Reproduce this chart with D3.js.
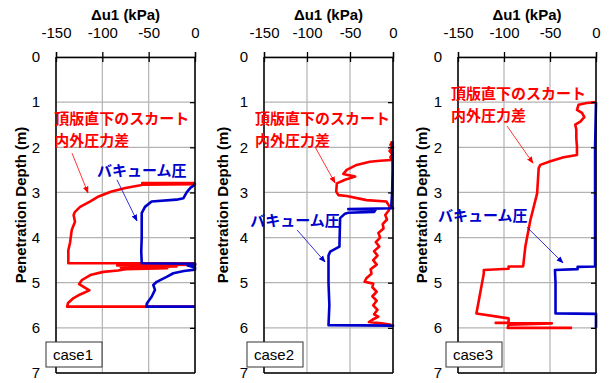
<!DOCTYPE html>
<meta charset="utf-8">
<style>
body { margin: 0; background: #fff; }
text { font-family: "Liberation Sans", Arial, sans-serif; }
.grid line { stroke: #b3b3b3; stroke-width: 1.2px; }
.frame { stroke: #000; stroke-width: 1.5px; fill: none; }
.axis path, .axis line { stroke: #000; stroke-width: 1.3px; }
.axis text { font-size: 15px; fill: #000; }
.jp { font-family: "Noto Sans CJK JP", sans-serif; font-weight: bold; font-size: 15px; }
</style>
<svg width="611" height="383"></svg>
<script src="https://d3js.org/d3.v7.min.js"></script>
<script>
// values: [Δu1 (kPa), depth (m)]
var xTicks = [-150, -100, -50, 0];
var depthTicks = [0, 1, 2, 3, 4, 5, 6, 7];
var caseNames = ["case1", "case2", "case3"];

var case1Red = [[0,2.79],[-57,2.79],[-30,2.8],[-57,2.81],[0,2.82],[-57,2.83],[-59,2.84],[-75,2.9],[-90,2.98],[-95,3.02],
  [-104,3.09],[-113,3.2],[-124,3.32],[-129.5,3.43],[-131,3.5],[-129.5,3.65],[-133,3.83],[-134.9,4.12],[-136.7,4.28],
  [-136.7,4.57],[0,4.57],[0,4.6],[-84,4.62],[-20,4.64],[-80,4.66],[-30,4.68],[-75,4.7],[-83,4.73],[-99,4.76],
  [-113,4.83],[-122,4.94],[-125,5.03],[-114,5.17],[-124,5.26],[-131,5.34],[-137,5.45],[-138,5.53],[0,5.53]];
var case1Blue = [[0,2.79],[-1,2.84],[-5,2.9],[-9,3.0],[-12.6,3.13],[-20,3.16],[-46.8,3.2],[-54,3.32],[-57.5,3.46],
  [-57.5,4.0],[-58,4.3],[-57.5,4.57],[0,4.58],[0,4.62],[-8,4.62],[0,4.66],[0,4.71],[-12,4.74],[-23.4,4.79],
  [-30.6,4.87],[-41.3,4.98],[-45,5.05],[-43.2,5.16],[-46.8,5.31],[-52,5.46],[-52.5,5.53],[0,5.53]];

var case2Red = [[-1,1.87],[-3,1.95],[0,2.0],[-4,2.08],[-1,2.15],[-3,2.22],[-2,2.28],[-15,2.3],[-27,2.32],[-42.3,2.39],
  [-53.8,2.5],[-57.7,2.59],[-44,2.65],[-55.8,2.72],[-65.3,2.8],[-66,2.98],[-63.5,3.06],[-53.8,3.08],[-30.8,3.17],
  [-7.7,3.2],[-3.8,3.32],[-5,3.4],[-9,3.5],[-7,3.6],[-12,3.7],[-11,3.8],[-17,3.9],[-15,4.0],[-20,4.1],[-16,4.2],
  [-22,4.3],[-18,4.4],[-23,4.5],[-19,4.6],[-26,4.7],[-25,4.8],[-31,4.9],[-33,4.98],[-23,5.02],[-24,5.1],[-19,5.2],
  [-24,5.3],[-19,5.4],[-23,5.5],[-18,5.6],[-22,5.7],[-17,5.75],[-24,5.82],[-28,5.87],[-13.5,5.9],[-2,5.93]];
var case2Blue = [[-0.5,1.87],[-0.5,2.5],[-1,3.0],[-2,3.3],[0,3.35],[-52,3.37],[-20,3.38],[-22,3.43],[-52,3.45],
  [-55.8,3.47],[-61.5,3.57],[-62.3,4.2],[-73,4.31],[-75,4.4],[-75,5.0],[-74,5.5],[-75,5.94],[0,5.95],[0,5.97]];

var case3Red = [[0,1.0],[-10,1.02],[-19,1.06],[-20.7,1.17],[-15.2,1.24],[-12.7,1.33],[-17,1.43],[-22.5,1.5],
  [-21.4,1.61],[-21.4,1.8],[-20.7,1.98],[-20.7,2.17],[-35.2,2.22],[-49.6,2.31],[-60.5,2.39],[-62.3,2.46],
  [-64,3.02],[-71.3,3.61],[-76.8,4.2],[-79.2,4.64],[-95,4.64],[-95,4.69],[-122,4.72],[-122,4.8],[-130,5.68],
  [-95,5.79],[-95,5.88],[-109,5.89],[-48,5.9],[-95,5.93],[-96,6.0],[-26,6.0]];
var case3Blue = [[0,1.0],[-1,2.0],[-1,3.0],[-1,4.0],[-1,4.64],[-20,4.65],[-20,4.7],[-44.6,4.72],[-44,5.0],
  [-44,5.68],[0,5.69],[0,6.0]];

var redSeries = [case1Red, case2Red, case3Red];
var blueSeries = [case1Blue, case2Blue, case3Blue];

// annotation anchors in data units: text start [x, depth of first baseline], arrow [x1,d1,x2,d2]
var redText = [[-152, 1.48], [-160.5, 1.48], [-157.6, 0.93]];
var redArrow = [[-132.7, 2.13, -115.5, 3.01], [-90.7, 1.99, -67.4, 2.79], [-96.7, 1.53, -68.5, 2.35]];
var blueText = [[-105.8, 2.64], [-166, 3.74], [-171.7, 3.63]];
var blueArrow = [[-84.2, 2.72, -62.6, 3.63], [-111.6, 3.83, -79, 4.54], [-75, 3.77, -35.9, 4.56]];

var panels = [
  {left: 56, right: 195, titleX: 21, boxX: 46},
  {left: 264, right: 393, titleX: 223, boxX: 247},
  {left: 458, right: 596, titleX: 422, boxX: 446}
];
var plotTop = 57, plotBottom = 373;

var svg = d3.select("svg");
var defs = svg.append("defs");
[["arrRed", "#ff0000"], ["arrBlue", "#0000cc"]].forEach(function(m) {
  defs.append("marker").attr("id", m[0]).attr("viewBox", "0 0 10 10")
      .attr("refX", 9).attr("refY", 5).attr("markerWidth", 7).attr("markerHeight", 7)
      .attr("orient", "auto").attr("markerUnits", "userSpaceOnUse")
    .append("path").attr("d", "M0,1L10,5L0,9z").attr("fill", m[1]);
});

var plain = function(d) { return String(d); };

panels.forEach(function(p, i) {
  var x = d3.scaleLinear().domain([-150, 0]).range([p.left, p.right]);
  var y = d3.scaleLinear().domain([0, 7]).range([plotTop, plotBottom]);
  var g = svg.append("g");

  // grid
  var grid = g.append("g").attr("class", "grid");
  grid.selectAll(".v").data(xTicks).enter().append("line")
      .attr("x1", x).attr("x2", x).attr("y1", plotTop).attr("y2", plotBottom);
  grid.selectAll(".h").data(depthTicks).enter().append("line")
      .attr("x1", p.left).attr("x2", p.right).attr("y1", y).attr("y2", y);

  // series
  var line = d3.line().x(function(d) { return x(d[0]); }).y(function(d) { return y(d[1]); });
  g.append("path").datum(redSeries[i]).attr("d", line)
      .attr("fill", "none").attr("stroke", "#ff0000").attr("stroke-width", 2.6).attr("stroke-linejoin", "round");
  g.append("path").datum(blueSeries[i]).attr("d", line)
      .attr("fill", "none").attr("stroke", "#0000cc").attr("stroke-width", 2.6).attr("stroke-linejoin", "round");

  // frame
  g.append("line").attr("class", "frame").attr("x1", p.left).attr("x2", p.left).attr("y1", plotTop).attr("y2", plotBottom);
  g.append("line").attr("class", "frame").attr("x1", p.right).attr("x2", p.right).attr("y1", plotTop).attr("y2", plotBottom);
  g.append("line").attr("class", "frame").attr("x1", p.left).attr("x2", p.right).attr("y1", plotBottom).attr("y2", plotBottom);

  // top axis with crossing ticks
  g.append("g").attr("class", "axis").attr("transform", "translate(0," + plotTop + ")")
      .call(d3.axisTop(x).tickValues(xTicks).tickSize(5).tickPadding(14).tickFormat(plain));
  g.append("g").attr("class", "axis").attr("transform", "translate(0," + plotTop + ")")
      .call(d3.axisBottom(x).tickValues(xTicks).tickSize(5).tickFormat(""))
      .select(".domain").remove();

  // depth labels on the left, inward ticks on the right
  var ya = g.append("g").attr("class", "axis").attr("transform", "translate(" + p.left + ",0)")
      .call(d3.axisLeft(y).tickValues(depthTicks).tickSize(0).tickPadding(16).tickFormat(plain));
  ya.select(".domain").remove();
  ya.selectAll("text").attr("font-size", 16);
  g.append("g").attr("class", "axis").attr("transform", "translate(" + p.right + ",0)")
      .call(d3.axisLeft(y).tickValues(depthTicks.slice(1, 7)).tickSize(5).tickFormat(""))
      .select(".domain").remove();

  // titles
  g.append("text").attr("x", (p.left + p.right) / 2).attr("y", 20).attr("text-anchor", "middle")
      .attr("font-size", 15).attr("font-weight", "bold").text("Δu1 (kPa)");
  g.append("text").attr("transform", "translate(" + (p.titleX + 5) + ",205) rotate(-90)")
      .attr("text-anchor", "middle").attr("font-size", 15).attr("font-weight", "bold")
      .text("Penetration Depth (m)");

  // annotations
  var rt = g.append("text").attr("class", "jp").attr("fill", "#ff0000")
      .attr("x", x(redText[i][0])).attr("y", y(redText[i][1]));
  rt.append("tspan").attr("x", x(redText[i][0])).attr("dy", 0).text("頂版直下のスカート");
  rt.append("tspan").attr("x", x(redText[i][0])).attr("dy", 22).text("内外圧力差");
  g.append("line").attr("x1", x(redArrow[i][0])).attr("y1", y(redArrow[i][1]))
      .attr("x2", x(redArrow[i][2])).attr("y2", y(redArrow[i][3]))
      .attr("stroke", "#ff0000").attr("stroke-width", 0.8).attr("marker-end", "url(#arrRed)");
  g.append("text").attr("class", "jp").attr("fill", "#0000cc")
      .attr("x", x(blueText[i][0])).attr("y", y(blueText[i][1])).text("バキューム圧");
  g.append("line").attr("x1", x(blueArrow[i][0])).attr("y1", y(blueArrow[i][1]))
      .attr("x2", x(blueArrow[i][2])).attr("y2", y(blueArrow[i][3]))
      .attr("stroke", "#0000cc").attr("stroke-width", 0.8).attr("marker-end", "url(#arrBlue)");

  // case label
  g.append("rect").attr("x", p.boxX).attr("y", 342).attr("width", 56).attr("height", 25)
      .attr("fill", "#fff").attr("stroke", "#333").attr("stroke-width", 1);
  g.append("text").attr("x", p.boxX + 7).attr("y", 360).attr("font-size", 15).text(caseNames[i]);
});
</script>
